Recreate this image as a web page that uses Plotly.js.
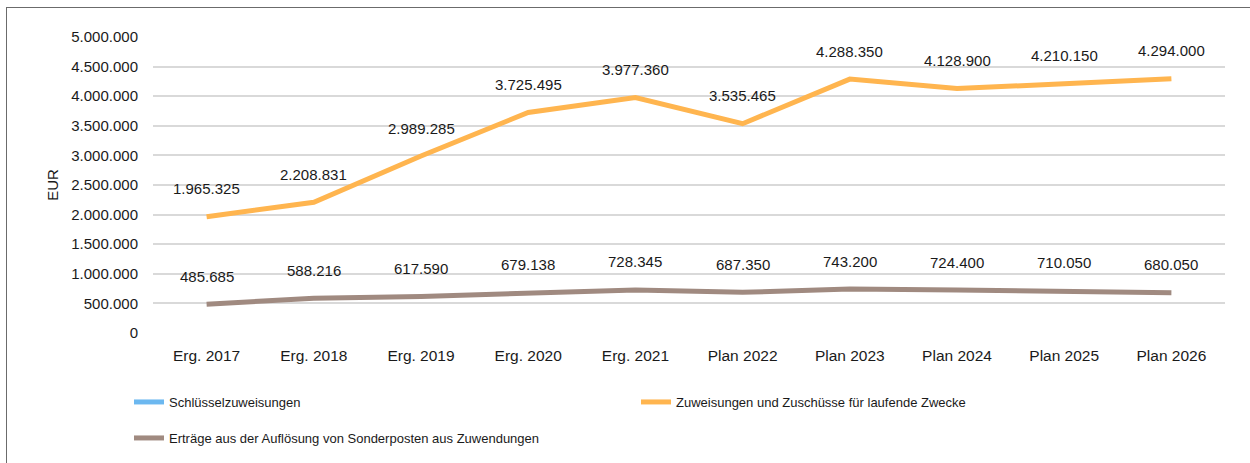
<!DOCTYPE html>
<html>
<head>
<meta charset="utf-8">
<script src="https://cdn.plot.ly/plotly-3.0.1.min.js"></script>
<style>
  html, body { margin: 0; padding: 0; background: #fff; }
  #wrap { position: relative; width: 1250px; height: 463px; overflow: hidden; }
  #chart { width: 1250px; height: 463px; }
  #frame { position: absolute; left: 6px; top: 7px; width: 1300px; height: 500px;
           border-left: 1px solid #6b6b6b; border-top: 1px solid #6b6b6b; pointer-events: none; }
</style>
</head>
<body>
<div id="wrap"><div id="chart"></div><div id="frame"></div></div>
<script>
const categories = ["Erg. 2017","Erg. 2018","Erg. 2019","Erg. 2020","Erg. 2021","Plan 2022","Plan 2023","Plan 2024","Plan 2025","Plan 2026"];
const schluessel = [null,null,null,null,null,null,null,null,null,null];
const zuweisungen = [1965325,2208831,2989285,3725495,3977360,3535465,4288350,4128900,4210150,4294000];
const ertraege = [485685,588216,617590,679138,728345,687350,743200,724400,710050,680050];
const yTicks = [0,500000,1000000,1500000,2000000,2500000,3000000,3500000,4000000,4500000,5000000];

const FONT = "Liberation Sans, Arial, sans-serif";
const TXT = "#1a1a1a";
function de(n){ return String(n).replace(/\B(?=(\d{3})+(?!\d))/g, "."); }

const traces = [
  {x: categories, y: schluessel, name: "Schlüsselzuweisungen", type: "scatter", mode: "lines",
   line: {color: "#6cb8f0", width: 5}, legend: "legend"},
  {x: categories, y: zuweisungen, name: "Zuweisungen und Zuschüsse für laufende Zwecke", type: "scatter", mode: "lines",
   line: {color: "#ffb54f", width: 5}, legend: "legend3"},
  {x: categories, y: ertraege, name: "Erträge aus der Auflösung von Sonderposten aus Zuwendungen", type: "scatter", mode: "lines",
   line: {color: "#a08a80", width: 5}, legend: "legend2"}
];

const annotations = [];
[zuweisungen, ertraege].forEach(arr => {
  arr.forEach((v, i) => {
    annotations.push({x: categories[i], y: v, text: de(v), showarrow: false, yshift: 28,
      font: {family: FONT, size: 15, color: TXT}});
  });
});

function leg(xpx, ypx){
  return {orientation: "h", xref: "container", yref: "container", x: xpx/1250, y: 1 - ypx/463,
          xanchor: "left", yanchor: "top", font: {family: FONT, size: 13, color: TXT},
          bgcolor: "rgba(0,0,0,0)"};
}

const layout = {
  width: 1250, height: 463,
  margin: {l: 153, r: 25, t: 37, b: 130},
  paper_bgcolor: "#fff", plot_bgcolor: "#fff",
  separators: ",.",
  font: {family: FONT, size: 15, color: TXT},
  xaxis: {type: "category", range: [-0.5, 9.5], showgrid: false, zeroline: false, showline: false, ticks: "",
          ticklabelstandoff: 11, tickfont: {family: FONT, size: 15.5, color: TXT}},
  yaxis: {range: [0, 5000000], tickvals: yTicks, ticktext: yTicks.map(de),
          showgrid: true, gridcolor: "#d9d9d9", gridwidth: 2, zeroline: false, showline: false,
          ticks: "", ticklabelstandoff: 14, tickfont: {family: FONT, size: 15, color: TXT},
          title: {text: "EUR", standoff: 9, font: {family: FONT, size: 15, color: TXT}}},
  showlegend: true,
  legend: leg(129, 387),
  legend3: leg(636, 387),
  legend2: leg(129, 423),
  annotations: annotations
};

Plotly.newPlot("chart", traces, layout, {displayModeBar: false, staticPlot: true});
</script>
</body>
</html>
